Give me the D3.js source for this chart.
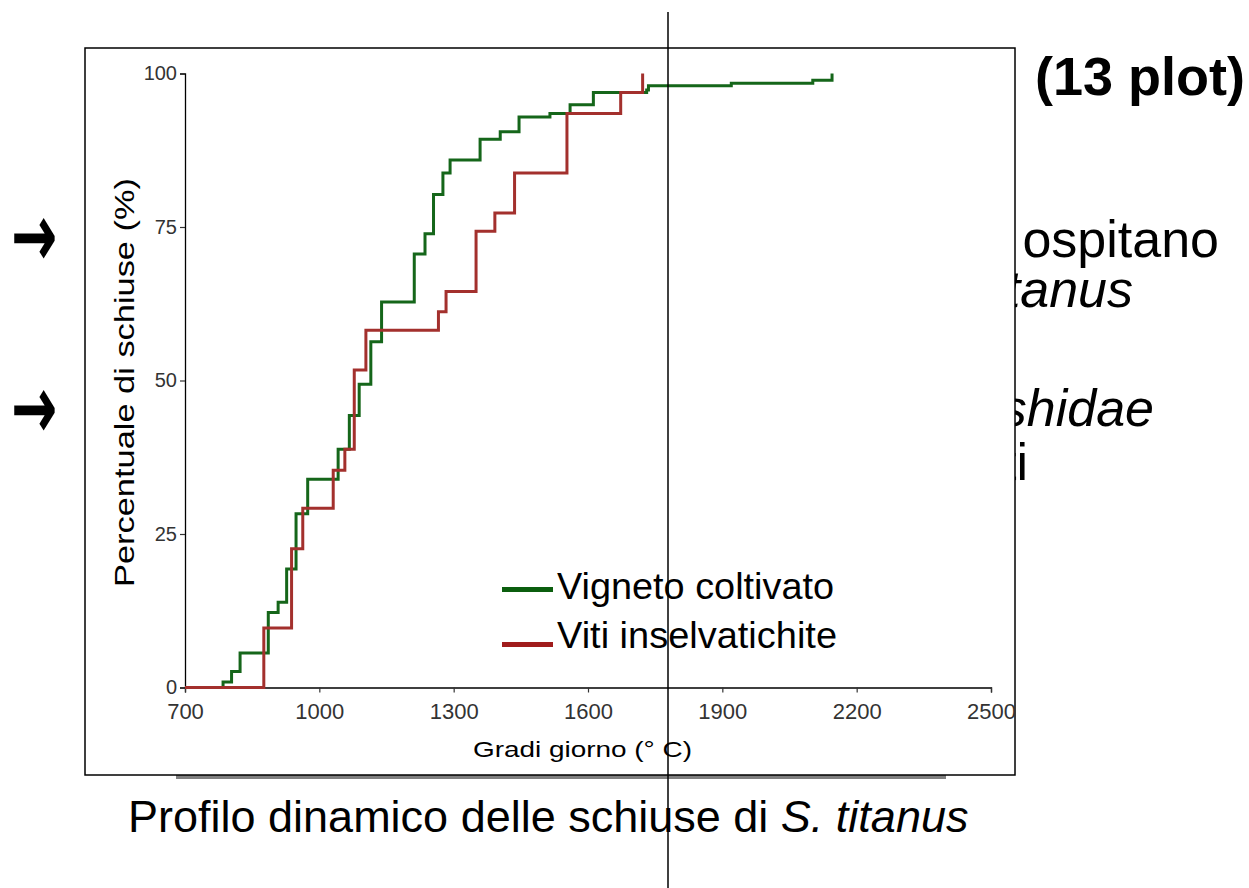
<!DOCTYPE html>
<html>
<head>
<meta charset="utf-8">
<script src="https://cdn.jsdelivr.net/npm/d3@7"></script>
<style>
  html, body { margin: 0; padding: 0; background: #fff; }
  svg { display: block; }
</style>
</head>
<body>
<svg id="chart" width="1249" height="888"></svg>
<script>
// ---- data ----
const seriesNames = ["Vigneto coltivato", "Viti inselvatichite"];
const greenX = [700, 785, 804, 823, 886, 908, 927, 948, 974, 1042, 1067, 1089, 1115, 1139, 1212, 1236, 1255, 1276, 1292, 1359, 1404, 1446, 1515, 1560, 1612, 1731, 1735, 1920, 2102, 2145];
const greenY = [0, 0.9, 2.6, 5.6, 12.2, 13.9, 19.3, 28.3, 33.9, 38.8, 44.3, 49.4, 56.3, 62.8, 70.6, 73.9, 80.3, 83.8, 85.9, 89.3, 90.5, 92.9, 93.5, 94.9, 96.9, 97.3, 98.0, 98.4, 98.9, 100];
const redX = [700, 876, 938, 963, 1031, 1057, 1078, 1104, 1266, 1283, 1350, 1392, 1436, 1553, 1673, 1722];
const redY = [0, 9.7, 22.6, 29.2, 35.4, 38.8, 51.7, 58.2, 61.2, 64.5, 74.3, 77.3, 83.8, 93.5, 96.9, 100];
const xTicks = [700, 1000, 1300, 1600, 1900, 2200, 2500];
const yTicks = [0, 25, 50, 75, 100];
const xTitle = "Gradi giorno (° C)";
const yTitle = "Percentuale di schiuse (%)";
const caption = "Profilo dinamico delle schiuse di ";
const captionItalic = "S. titanus";

const svg = d3.select("#chart");
const FONT = "'Liberation Sans', Arial, sans-serif";

// ---- slide text behind the chart picture ----
const slide = svg.append("g").attr("font-family", FONT).attr("fill", "#000");
slide.append("text").attr("x", 1245).attr("y", 95).attr("text-anchor", "end")
  .attr("font-size", 54).attr("font-weight", "bold").text("(13 plot)");
slide.append("text").attr("x", 1219).attr("y", 257).attr("text-anchor", "end")
  .attr("font-size", 52).text("ospitano");
slide.append("text").attr("x", 1133).attr("y", 307).attr("text-anchor", "end")
  .attr("font-size", 52).attr("font-style", "italic").text("titanus");
slide.append("text").attr("x", 1154).attr("y", 426).attr("text-anchor", "end")
  .attr("font-size", 52).attr("font-style", "italic").text("shidae");
slide.append("text").attr("x", 1028).attr("y", 480).attr("text-anchor", "end")
  .attr("font-size", 52).text("ti");
[250, 422].forEach(cy => {
  slide.append("text")
    .attr("transform", `translate(12,${cy}) scale(1.02,1.65) translate(0,9)`)
    .attr("font-family", "'DejaVu Sans', sans-serif").attr("font-size", 52)
    .attr("stroke", "#000").attr("stroke-width", 1.6).text("→");
});

// caption under the picture
const cap = svg.append("text").attr("x", 128).attr("y", 832)
  .attr("font-family", FONT).attr("font-size", 45).attr("fill", "#000");
cap.append("tspan").text(caption);
cap.append("tspan").attr("font-style", "italic").text(captionItalic);

// smudge strip under the picture
svg.append("rect").attr("x", 176).attr("y", 775).attr("width", 770).attr("height", 4)
  .attr("fill", "#555").attr("opacity", 0.75);

// ---- chart picture frame ----
svg.append("rect").attr("x", 85).attr("y", 48).attr("width", 930).attr("height", 727)
  .attr("fill", "#fff").attr("stroke", "#000").attr("stroke-width", 1.5);

// ---- scales ----
const x = d3.scaleLinear().domain([700, 2500]).range([185, 991]);
const y = d3.scaleLinear().domain([0, 100]).range([687.5, 73.5]);

const plot = svg.append("g").attr("font-family", FONT);

// axes
const xAxis = plot.append("g").attr("transform", `translate(0,${y(0)})`)
  .call(d3.axisBottom(x).tickValues(xTicks).tickSize(5).tickPadding(11).tickFormat(d3.format("d")));
xAxis.select(".domain").attr("stroke", "#000").attr("stroke-width", 1.3);
xAxis.selectAll(".tick line").attr("stroke", "#333").attr("stroke-width", 1.2);
xAxis.selectAll(".tick text").attr("font-size", 22).attr("fill", "#333")
  .attr("font-family", FONT);

const yAxis = plot.append("g").attr("transform", `translate(${x(700)},0)`)
  .call(d3.axisLeft(y).tickValues(yTicks).tickSize(5).tickPadding(3));
yAxis.select(".domain").attr("stroke", "#000").attr("stroke-width", 1.3);
yAxis.selectAll(".tick line").attr("stroke", "#333").attr("stroke-width", 1.2);
yAxis.selectAll(".tick text").attr("font-size", 20).attr("fill", "#333")
  .attr("font-family", FONT);

// axis titles
plot.append("text").attr("x", 582.5).attr("y", 757).attr("text-anchor", "middle")
  .attr("font-size", 22).attr("fill", "#000")
  .attr("textLength", 219).attr("lengthAdjust", "spacingAndGlyphs").text(xTitle);
plot.append("text").attr("transform", "translate(134,382.5) rotate(-90)")
  .attr("text-anchor", "middle").attr("font-size", 28).attr("fill", "#000")
  .attr("textLength", 409).attr("lengthAdjust", "spacingAndGlyphs").text(yTitle);

// step lines
const line = d3.line().x(d => x(d[0])).y(d => y(d[1])).curve(d3.curveStepAfter);
const green = greenX.map((v, i) => [v, greenY[i]]);
const red = redX.map((v, i) => [v, redY[i]]);
const colors = ["#15661a", "#a3302d"];
plot.append("path").datum(green).attr("d", line).attr("fill", "none")
  .attr("stroke", colors[0]).attr("stroke-width", 3).attr("stroke-linejoin", "miter");
plot.append("path").datum(red).attr("d", line).attr("fill", "none")
  .attr("stroke", colors[1]).attr("stroke-width", 3).attr("stroke-linejoin", "miter");

// legend
const legend = plot.append("g");
const legY = [589.5, 644.5];
const legTextY = [599, 648];
const legLen = [277, 280];
seriesNames.forEach((name, i) => {
  legend.append("line").attr("x1", 502).attr("x2", 553).attr("y1", legY[i]).attr("y2", legY[i])
    .attr("stroke", i === 0 ? "#0b5e0e" : "#a01c1c").attr("stroke-width", 5);
  legend.append("text").attr("x", 557).attr("y", legTextY[i]).attr("font-size", 36)
    .attr("fill", "#000").attr("textLength", legLen[i]).attr("lengthAdjust", "spacingAndGlyphs")
    .text(name);
});

// vertical guide line over everything
svg.append("line").attr("x1", 668).attr("x2", 668).attr("y1", 12).attr("y2", 888)
  .attr("stroke", "#000").attr("stroke-width", 1.5);
</script>
</body>
</html>
